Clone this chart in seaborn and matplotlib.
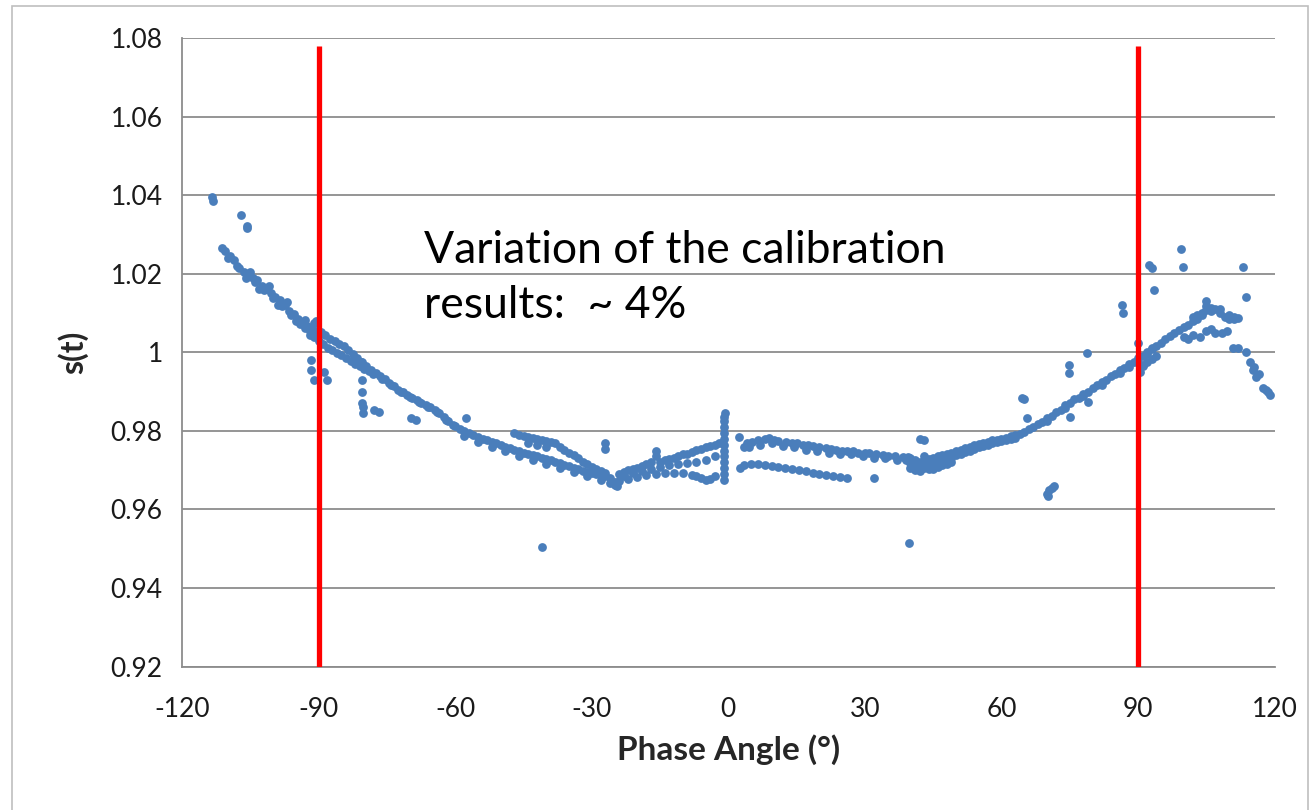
import numpy as np
import pandas as pd
import seaborn as sns
import matplotlib.pyplot as plt
from matplotlib.patches import Rectangle

## Calibration factor s(t) vs. phase angle

# left branch, -114 .. -60 deg
left_x = [-111.2, -110.5, -109.5, -108.6, -107.5, -106.5, -105.5, -104.5, -103.5, -102.5,
          -101.5, -100.5, -99.5, -98.5, -97.5, -96.5, -95.5, -94.5, -93.5, -92.5,
          -91.5, -90.5, -89.5, -88.5, -87.5, -86.5, -85.5, -84.5, -83.5, -82.5,
          -81.5, -80.5, -79.5, -78.5, -77.5, -76.5, -75.5, -74.5, -73.5, -72.5,
          -71.5, -70.5, -69.5, -68.5, -67.5, -66.5, -65.5, -64.5, -63.5, -62.5,
          -61.5, -60.5,
          -110.0, -108.0, -106.0, -104.0, -102.0, -100.0, -98.0, -96.0, -94.0, -92.0,
          -91.0, -90.0, -89.0, -88.0, -87.0, -86.0, -85.0, -84.0, -83.0, -82.0,
          -81.0, -80.0, -79.0, -78.0, -76.0, -74.0, -72.0, -70.0, -68.0, -66.0,
          -64.0, -62.0,
          -105.0, -101.0, -97.0, -93.0, -91.0, -90.5,
          -103.0, -99.0, -95.0, -93.0, -92.0]
left_y = [1.0266, 1.0258, 1.0245, 1.0235, 1.0215, 1.0205, 1.0195, 1.0190, 1.0185, 1.0170,
          1.0160, 1.0150, 1.0140, 1.0133, 1.0120, 1.0105, 1.0098, 1.0085, 1.0075, 1.0068,
          1.0060, 1.0055, 1.0052, 1.0045, 1.0035, 1.0030, 1.0022, 1.0015, 1.0005, 0.9995,
          0.9985, 0.9975, 0.9965, 0.9955, 0.9948, 0.9940, 0.9932, 0.9922, 0.9915, 0.9905,
          0.9898, 0.9892, 0.9885, 0.9878, 0.9872, 0.9866, 0.9860, 0.9853, 0.9845, 0.9835,
          0.9825, 0.9815,
          1.0240, 1.0220, 1.0190, 1.0178, 1.0158, 1.0138, 1.0118, 1.0095, 1.0072, 1.0055,
          1.0040, 1.0030, 1.0020, 1.0012, 1.0005, 0.9998, 0.9992, 0.9985, 0.9978, 0.9970,
          0.9964, 0.9958, 0.9952, 0.9946, 0.9933, 0.9918, 0.9900, 0.9887, 0.9873, 0.9861,
          0.9848, 0.9828,
          1.0205, 1.0168, 1.0128, 1.0082, 1.0075, 1.0080,
          1.0160, 1.0120, 1.0080, 1.0062, 1.0045]

# middle-left branch, -60 .. 0 deg
mid_x = [-60, -59, -58, -57, -56, -55, -54, -53, -52, -51, -50, -49, -48, -47, -46,
         -45, -44, -43, -42, -41, -40, -39, -38, -37, -36, -35, -34, -33, -32, -31,
         -30, -29, -28, -27, -26, -25, -24.5,
         -58, -55, -52, -49, -46, -43, -40, -37, -34, -31, -28, -26, -25,
         -47, -46, -45, -44, -43, -42, -41, -40, -39, -38, -37, -36, -35, -34, -33,
         -32, -31, -30, -29, -28, -27, -44, -42, -40,
         -24, -23, -22, -21, -20, -19, -18, -17, -15, -14, -13, -12, -11, -10, -9,
         -8, -7, -6, -5, -4, -3, -2,
         -24, -22, -20, -18, -16, -14, -12, -10, -8, -7, -6, -5, -4, -3,
         -23, -21, -19, -17, -15, -13, -11, -9, -7, -5, -3,
         -1.0, -1.0, -1.0, -1.0, -1.0, -1.0, -1.0, -1.0, -1.0, -1.0, -1.0, -1.0, -0.8]
mid_y = [0.9812, 0.9806, 0.9800, 0.9795, 0.9790, 0.9785, 0.9780, 0.9776, 0.9772, 0.9768,
         0.9764, 0.9760, 0.9756, 0.9752, 0.9748, 0.9744, 0.9741, 0.9738, 0.9735, 0.9732,
         0.9728, 0.9725, 0.9721, 0.9718, 0.9714, 0.9710, 0.9706, 0.9702, 0.9699, 0.9696,
         0.9693, 0.9690, 0.9687, 0.9684, 0.9680, 0.9670, 0.9660,
         0.9788, 0.9772, 0.9760, 0.9748, 0.9736, 0.9726, 0.9717, 0.9706, 0.9695, 0.9684,
         0.9675, 0.9668, 0.9662,
         0.9795, 0.9790, 0.9788, 0.9785, 0.9783, 0.9780, 0.9778, 0.9775, 0.9772, 0.9768,
         0.9760, 0.9752, 0.9745, 0.9738, 0.9730, 0.9722, 0.9715, 0.9708, 0.9702, 0.9697,
         0.9694, 0.9770, 0.9765, 0.9760,
         0.9690, 0.9695, 0.9700, 0.9702, 0.9706, 0.9710, 0.9715, 0.9720, 0.9722, 0.9725,
         0.9728, 0.9730, 0.9735, 0.9740, 0.9742, 0.9747, 0.9752, 0.9755, 0.9758, 0.9762,
         0.9765, 0.9770,
         0.9672, 0.9678, 0.9683, 0.9688, 0.9690, 0.9692, 0.9694, 0.9692, 0.9688, 0.9684,
         0.9680, 0.9676, 0.9678, 0.9685,
         0.9685, 0.9692, 0.9697, 0.9703, 0.9708, 0.9712, 0.9715, 0.9718, 0.9722, 0.9727,
         0.9735,
         0.9676, 0.9690, 0.9705, 0.9720, 0.9735, 0.9750, 0.9765, 0.9780, 0.9795, 0.9810,
         0.9825, 0.9836, 0.9846]

# middle-right branch, 0 .. 64 deg (two tracks, then a cluster)
center_x = [2.4, 3.5, 4, 5.3, 6.5, 8, 9, 10, 11, 12.7, 14, 15, 16.3, 17.5, 18.5, 20,
            21.5, 22.5, 23.7, 25, 26, 27.3, 28.5, 30, 31, 32.5, 34, 35, 36.5, 38.3, 39.5,
            4.5, 7, 9.5, 12, 14.5, 17, 19.5, 22, 24.5, 27, 29.5, 32, 34.5, 37, 39,
            2.5, 3.5, 5, 6.5, 8, 9.5, 11, 12.5, 14, 15.5, 17, 18.5, 20, 21.5, 23, 24.5, 26,
            40, 40, 40, 41, 41, 41, 42, 42, 42, 43, 43, 43, 44, 44, 44, 45, 45, 45,
            46, 46, 46, 47, 47, 47, 48, 48, 48, 49, 49, 49,
            50, 50, 51, 51, 52, 52, 53, 53, 54, 54, 55, 55, 56, 56, 57, 57, 58, 58,
            59, 59, 60, 60, 61, 61, 62, 62, 63, 63]
center_y = [0.9785, 0.9760, 0.9770, 0.9772, 0.9778, 0.9780, 0.9783, 0.9778, 0.9775, 0.9773,
            0.9770, 0.9768, 0.9765, 0.9763, 0.9762, 0.9760, 0.9757, 0.9755, 0.9752, 0.9750,
            0.9748, 0.9748, 0.9745, 0.9745, 0.9743, 0.9740, 0.9738, 0.9737, 0.9735, 0.9733,
            0.9733,
            0.9758, 0.9765, 0.9770, 0.9762, 0.9758, 0.9752, 0.9748, 0.9745, 0.9742, 0.9740,
            0.9737, 0.9732, 0.9730, 0.9727, 0.9725,
            0.9705, 0.9712, 0.9715, 0.9717, 0.9713, 0.9710, 0.9708, 0.9705, 0.9702, 0.9700,
            0.9697, 0.9694, 0.9691, 0.9688, 0.9685, 0.9682, 0.9680,
            0.9730, 0.9718, 0.9705, 0.9725, 0.9712, 0.9700, 0.9722, 0.9710, 0.9698,
            0.9735, 0.9720, 0.9706, 0.9728, 0.9715, 0.9702, 0.9732, 0.9718, 0.9704,
            0.9735, 0.9722, 0.9708, 0.9738, 0.9725, 0.9712, 0.9742, 0.9728, 0.9716,
            0.9745, 0.9732, 0.9720,
            0.9748, 0.9738, 0.9752, 0.9742, 0.9756, 0.9746, 0.9760, 0.9750, 0.9763, 0.9754,
            0.9766, 0.9758, 0.9770, 0.9762, 0.9773, 0.9765, 0.9776, 0.9768, 0.9778, 0.9771,
            0.9780, 0.9774, 0.9783, 0.9777, 0.9786, 0.9780, 0.9790, 0.9783]

# right branch, 64 .. 119 deg
right_x = [64, 66, 68, 70, 72, 74, 76, 78, 80, 82, 84, 86, 88, 90, 92, 94, 96, 98, 100,
           102, 104, 105, 106, 107, 108, 109, 110, 111,
           65, 67, 69, 71, 73, 75, 77, 79, 81, 83, 85, 87, 89, 91, 93, 95, 97, 99, 101, 103,
           70, 74, 78, 82, 86, 88, 90, 91, 92, 93, 90.5, 91, 92, 93, 94, 90,
           100, 101, 102, 103.5, 105, 106, 107, 108.5, 109.5, 110.8, 112, 113.8,
           102, 103, 104, 106, 108, 110, 111, 112, 105, 105,
           114.5, 115.2, 115.5, 116, 116.5, 117.5, 118, 118.5, 119]
right_y = [0.9792, 0.9805, 0.9818, 0.9832, 0.9848, 0.9865, 0.9880, 0.9895, 0.9910, 0.9925,
           0.9940, 0.9955, 0.9970, 0.9985, 1.0000, 1.0015, 1.0035, 1.0050, 1.0065, 1.0080,
           1.0095, 1.0108, 1.0105, 1.0110, 1.0100, 1.0090, 1.0085, 1.0085,
           0.9796, 0.9810, 0.9823, 0.9838, 0.9854, 0.9870, 0.9885, 0.9900, 0.9916, 0.9930,
           0.9945, 0.9960, 0.9975, 0.9990, 1.0008, 1.0025, 1.0042, 1.0057, 1.0070, 1.0085,
           0.9826, 0.9858, 0.9888, 0.9918, 0.9948, 0.9962, 0.9975, 0.9968, 0.9975, 0.9982,
           0.9950, 0.9965, 0.9995, 1.0010, 0.9990, 1.0025,
           1.0040, 1.0035, 1.0045, 1.0040, 1.0055, 1.0060, 1.0050, 1.0050, 1.0055, 1.0011,
           1.0010, 1.0001,
           1.0090, 1.0095, 1.0100, 1.0112, 1.0110, 1.0095, 1.0090, 1.0088, 1.0130, 1.0118,
           0.9975, 0.9955, 0.9962, 0.9938, 0.9945, 0.9910, 0.9905, 0.9900, 0.9892]

# isolated points
outlier_x = [-113.4, -113.2, -107, -105.7, -105.8, -91.7, -91.7, -91, -88.8, -88.1,
             -80.7, -80.4, -80.4, -80.4, -80.2, -80.2, -77.8, -76.7, -69.7, -68.6,
             -57.6, -41, -27, -27, -16, -16, 32, 39.6, 42, 43,
             99.5, 99.8, 92.5, 93, 93.6, 113, 113.8, 86.4, 86.6, 78.7, 74.8, 74.9,
             64.6, 65, 65.5, 70.5, 70, 71, 71.5, 70.2, 75, 79]
outlier_y = [1.0395, 1.0385, 1.0350, 1.0317, 1.0322, 0.9981, 0.9956, 0.9930, 0.9950, 0.9930,
             0.9976, 0.9930, 0.9900, 0.9870, 0.9861, 0.9846, 0.9854, 0.9849, 0.9833, 0.9828,
             0.9833, 0.9505, 0.9770, 0.9755, 0.9750, 0.9735, 0.9680, 0.9515, 0.9780, 0.9778,
             1.0263, 1.0217, 1.0222, 1.0215, 1.0159, 1.0217, 1.0140, 1.0120, 1.0100, 0.9999,
             0.9968, 0.9948, 0.9884, 0.9880, 0.9833, 0.9650, 0.9640, 0.9655, 0.9660, 0.9635,
             0.9836, 0.9874]

# calibration window limits
limit_x = [-90, 90]

x_ticks = [-120, -90, -60, -30, 0, 30, 60, 90, 120]
y_ticks = [0.92, 0.94, 0.96, 0.98, 1.00, 1.02, 1.04, 1.06, 1.08]
y_tick_labels = ["0.92", "0.94", "0.96", "0.98", "1", "1.02", "1.04", "1.06", "1.08"]

df = pd.DataFrame({
    "angle": left_x + mid_x + center_x + right_x + outlier_x,
    "s": left_y + mid_y + center_y + right_y + outlier_y,
})

sns.set_style("white")
plt.rcParams["font.family"] = ["Lato", "DejaVu Sans"]
plt.rcParams["axes.unicode_minus"] = False

fig = plt.figure(figsize=(13.1, 8.1), dpi=100)
ax = fig.add_axes([0.139, 0.177, 0.834, 0.776])

sns.scatterplot(data=df, x="angle", y="s", color="#4A7EBB", s=40, linewidth=0, ax=ax, zorder=3)

ax.vlines(limit_x, 0.92, 1.078, color="#FF0000", linewidth=3.8, zorder=4)

ax.set_xlim(-120, 120)
ax.set_ylim(0.92, 1.08)
ax.set_xticks(x_ticks)
ax.set_yticks(y_ticks)
ax.set_yticklabels(y_tick_labels)
ax.yaxis.grid(True, color="#8C8C8C", linewidth=1.3)
ax.set_axisbelow(True)

for side in ["top", "right"]:
    ax.spines[side].set_visible(False)
for side in ["left", "bottom"]:
    ax.spines[side].set_color("#8C8C8C")
    ax.spines[side].set_linewidth(1.3)
ax.tick_params(axis="both", which="major", direction="out", length=8, width=1.3,
               color="#8C8C8C", labelsize=19, labelcolor="#1a1a1a")
ax.tick_params(axis="x", pad=14)
ax.tick_params(axis="y", pad=6)

ax.set_xlabel("Phase Angle (°)", fontsize=24, fontweight="bold", labelpad=9)
ax.set_ylabel("s(t)", fontsize=23, fontweight="bold", labelpad=16)

ax.text(-66.8, 1.0312, "Variation of the calibration\nresults:  ~ 4%", fontsize=32,
        va="top", ha="left", color="black", linespacing=1.42, zorder=5)

fig.patches.append(Rectangle((0.0092, -0.01), 0.9893, 1.0026, transform=fig.transFigure,
                             fill=False, edgecolor="#BFBFBF", linewidth=1.2))

fig.savefig("out.png", dpi=100)
